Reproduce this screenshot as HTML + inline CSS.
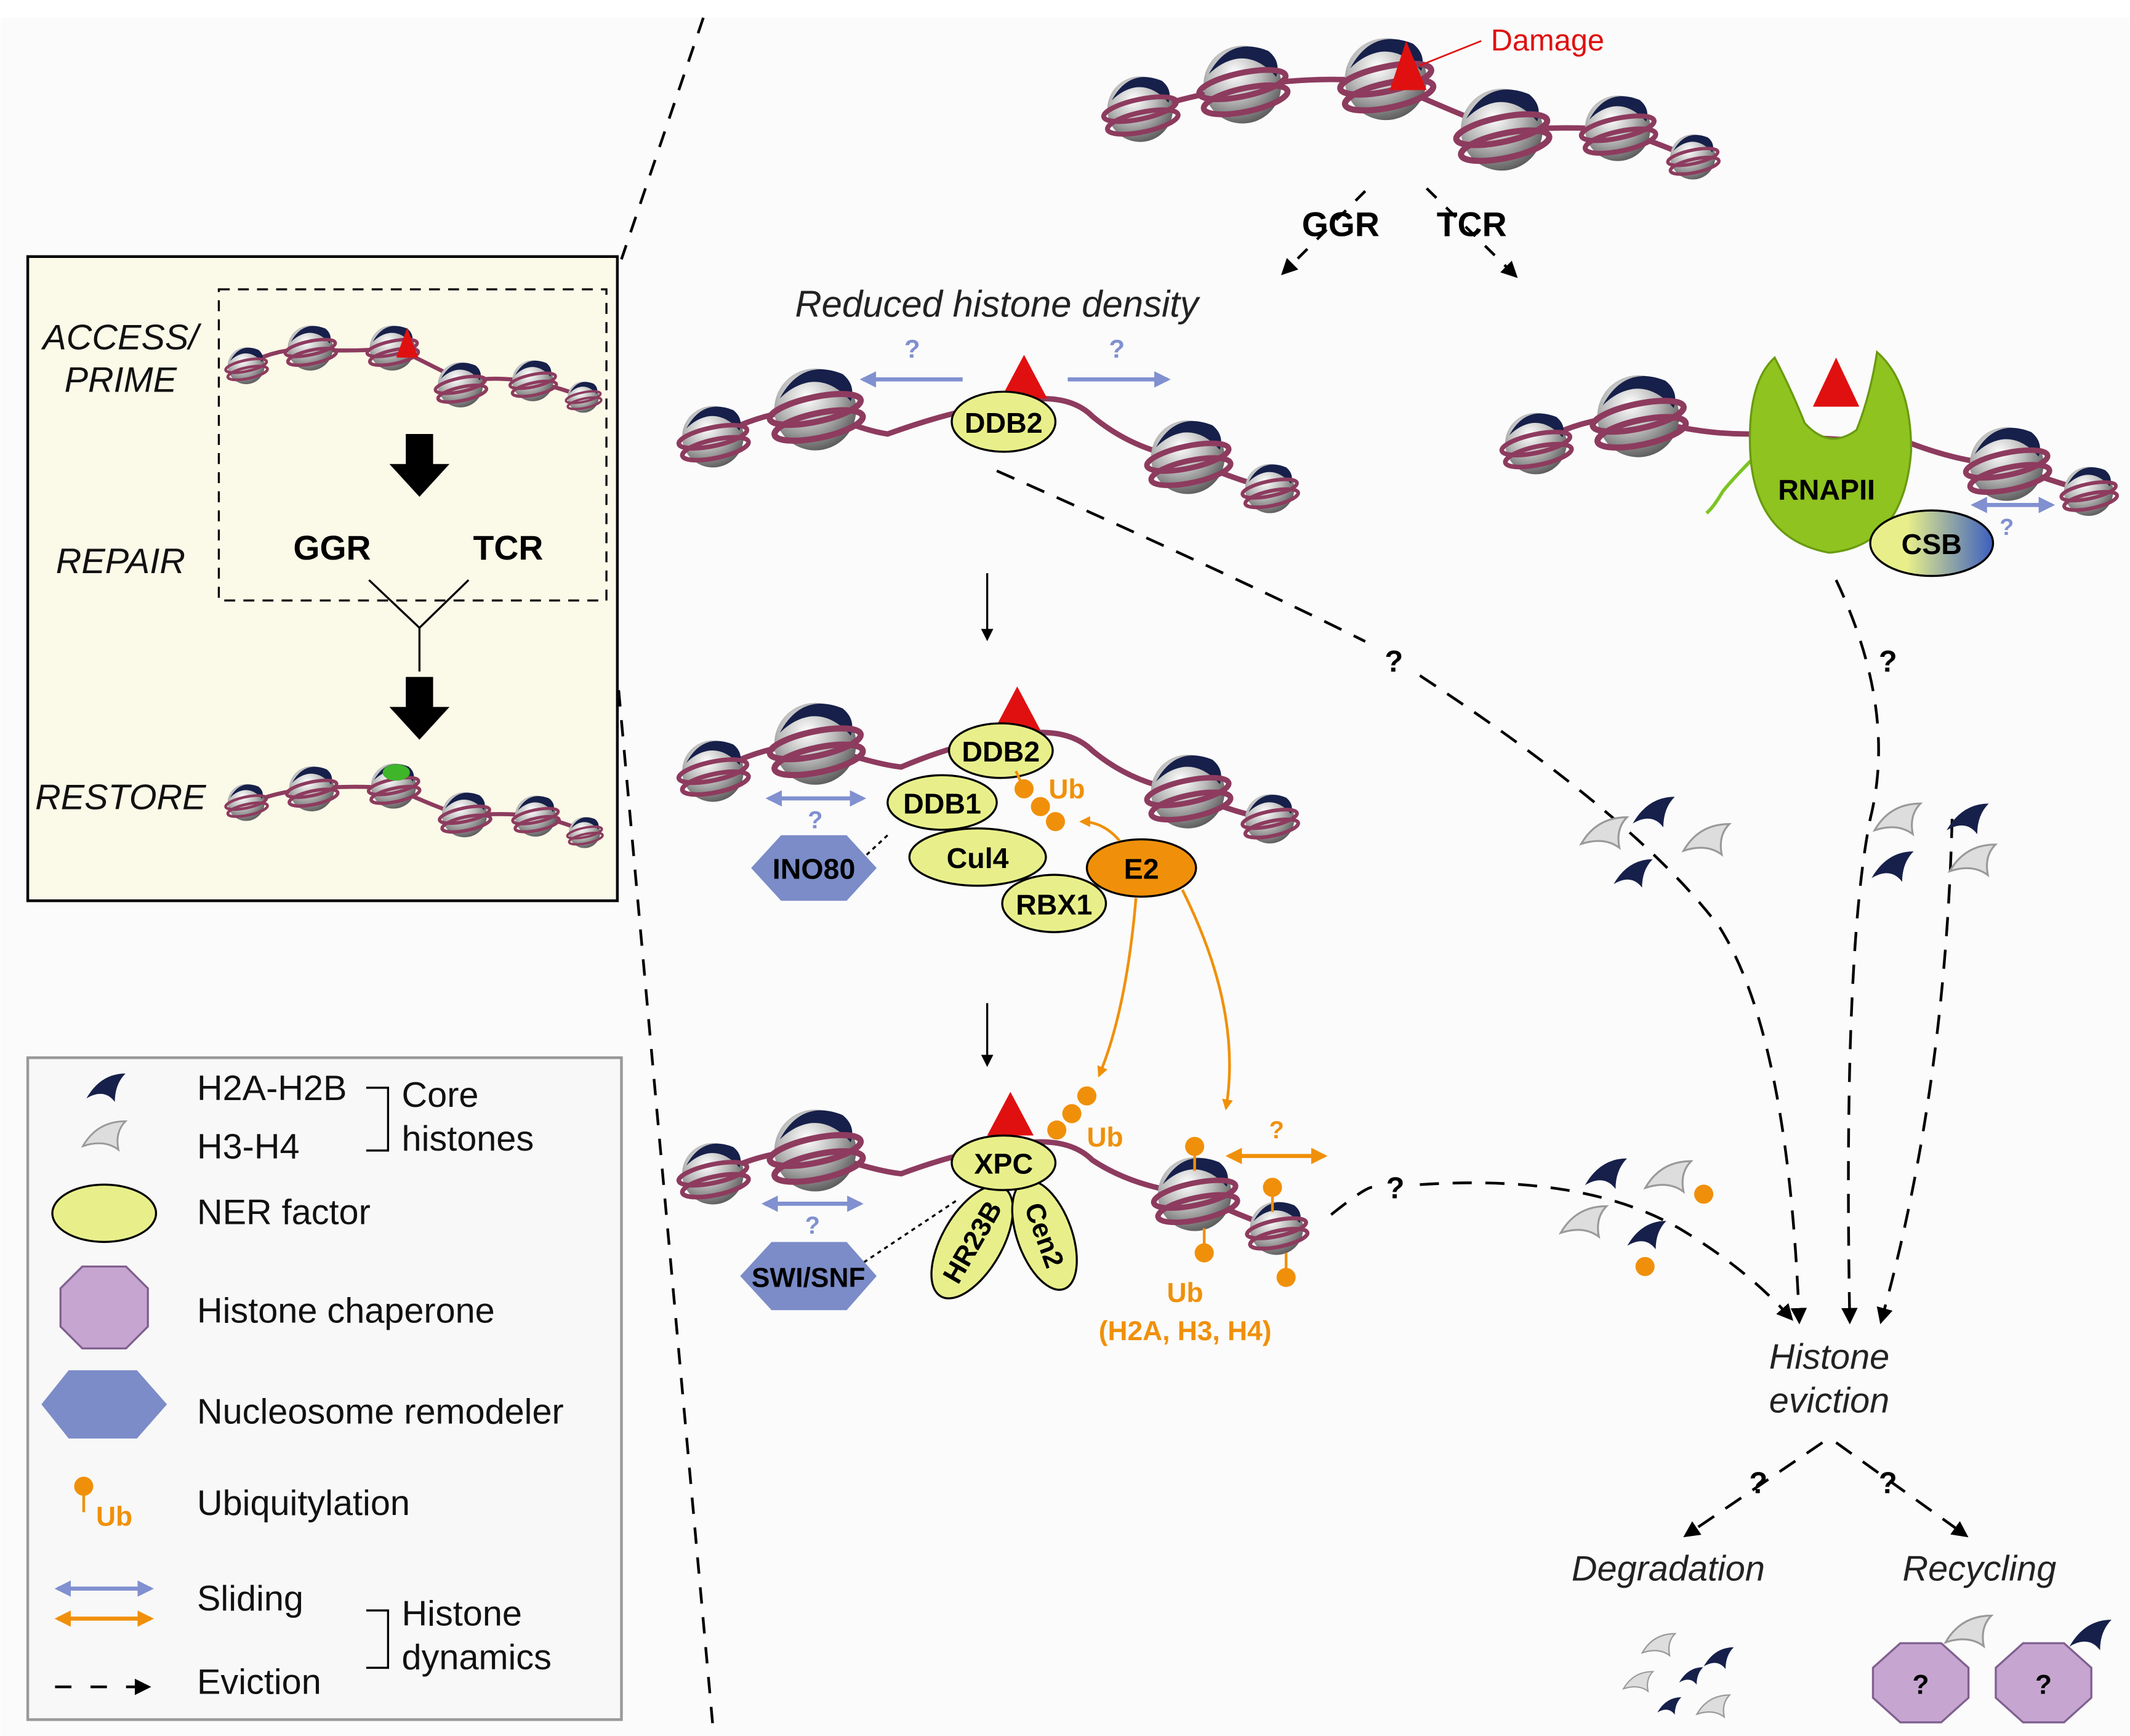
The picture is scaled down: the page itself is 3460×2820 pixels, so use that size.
<!DOCTYPE html>
<html><head><meta charset="utf-8"><style>
html,body{margin:0;padding:0;background:#fff;}
svg{display:block;}
text{font-family:"Liberation Sans",sans-serif;}
</style></head><body>
<svg width="3460" height="2820" viewBox="0 0 1560 1272" xmlns="http://www.w3.org/2000/svg">
<defs>
<radialGradient id="sph" cx="0.4" cy="0.35" r="0.7">
<stop offset="0" stop-color="#ffffff"/><stop offset="0.5" stop-color="#b8b8b8"/><stop offset="1" stop-color="#555"/>
</radialGradient>
<linearGradient id="csb" x1="0" x2="1"><stop offset="0.3" stop-color="#e8ef8a"/><stop offset="1" stop-color="#3c5fc0"/></linearGradient>
<g id="nuc">
<circle r="30" fill="url(#sph)"/>
<path d="M-26,-8 Q-10,-38 20,-26 Q30,-18 26,-6 Q12,-22 -4,-20 Q-16,-18 -26,-8Z" fill="#16204a"/>
<ellipse rx="34" ry="9" transform="rotate(-12)" fill="none" stroke="#8d3b5e" stroke-width="4.5"/>
<ellipse rx="33" ry="9" cy="12" transform="rotate(-12)" fill="none" stroke="#8d3b5e" stroke-width="4.5"/>
</g>
<g id="h2a"><path d="M-10,6 Q-2,-8 12,-8 Q6,-2 6,8 Q0,0 -10,6Z" fill="#16204a"/></g>
<g id="h3"><path d="M-12,6 Q-4,-8 12,-8 Q6,-2 8,8 Q0,2 -12,6Z" fill="#ddd" stroke="#999" stroke-width="1"/></g>
<marker id="ah" viewBox="0 0 10 10" refX="8" refY="5" markerWidth="6" markerHeight="6" orient="auto"><path d="M0,0L10,5L0,10Z" fill="#000"/></marker>
<marker id="ahb" viewBox="0 0 10 10" refX="8" refY="5" markerWidth="4" markerHeight="4" orient="auto-start-reverse"><path d="M0,0L10,5L0,10Z" fill="#8090d0"/></marker>
<marker id="aho" viewBox="0 0 10 10" refX="8" refY="5" markerWidth="4" markerHeight="4" orient="auto-start-reverse"><path d="M0,0L10,5L0,10Z" fill="#f0900a"/></marker>
</defs>
<rect x="0" y="13" width="1560" height="1259" fill="#fbfbfb"/>

<path d="M515,13 L455,190" stroke="#000" stroke-width="2" stroke-dasharray="12,10" fill="none"/>
<path d="M447,440 L522,1265" stroke="#000" stroke-width="2" stroke-dasharray="12,10" fill="none"/>

<rect x="20" y="188" width="432" height="472" fill="#fbf9e8" stroke="#000" stroke-width="2"/>
<rect x="160" y="212" width="284" height="228" fill="none" stroke="#000" stroke-width="1.5" stroke-dasharray="8,6"/>
<g font-style="italic" font-size="26" text-anchor="middle" fill="#111">
<text x="88" y="256">ACCESS/</text><text x="88" y="287">PRIME</text>
<text x="88" y="420">REPAIR</text><text x="88" y="593">RESTORE</text></g>
<path d="M175,270 Q200,255 225,256 Q260,258 290,255 Q320,270 340,280 Q360,275 390,280 Q415,285 428,292" stroke="#8d3b5e" stroke-width="3" fill="none"/>
<use href="#nuc" transform="translate(180,268) scale(0.45)"/><use href="#nuc" transform="translate(227,255) scale(0.55)"/>
<use href="#nuc" transform="translate(287,255) scale(0.55)"/><use href="#nuc" transform="translate(337,282) scale(0.55)"/>
<use href="#nuc" transform="translate(390,279) scale(0.5)"/><use href="#nuc" transform="translate(427,291) scale(0.38)"/>
<path d="M298,240 L306,262 L290,262Z" fill="#e01010"/>
<path d="M297,318 h20 v22 h12 l-22,24 l-22,-24 h12z" fill="#000"/>
<text x="243" y="410" font-weight="bold" font-size="25" text-anchor="middle">GGR</text>
<text x="372" y="410" font-weight="bold" font-size="25" text-anchor="middle">TCR</text>
<path d="M270,425 L307,460 L343,425 M307,460 V492" stroke="#000" stroke-width="1.5" fill="none"/>
<path d="M297,496 h20 v22 h12 l-22,24 l-22,-24 h12z" fill="#000"/>
<path d="M180,590 Q200,580 228,578 Q260,575 290,578 Q320,592 340,598 Q365,595 395,598 Q420,605 430,610" stroke="#8d3b5e" stroke-width="3" fill="none"/>
<use href="#nuc" transform="translate(180,588) scale(0.45)"/><use href="#nuc" transform="translate(228,578) scale(0.55)"/>
<use href="#nuc" transform="translate(288,576) scale(0.55)"/><use href="#nuc" transform="translate(340,597) scale(0.55)"/>
<use href="#nuc" transform="translate(392,598) scale(0.5)"/><use href="#nuc" transform="translate(428,610) scale(0.38)"/>
<ellipse cx="290" cy="566" rx="10" ry="6" fill="#3fb52a"/>

<rect x="20" y="775" width="435" height="485" fill="#f8f8f8" stroke="#999" stroke-width="2"/>
<use href="#h2a" transform="translate(76,797) scale(1.3)"/>
<use href="#h3" transform="translate(76,832) scale(1.3)"/>
<g font-size="26" fill="#111">
<text x="144" y="806">H2A-H2B</text><text x="144" y="849">H3-H4</text>
<text x="294" y="811">Core</text><text x="294" y="843">histones</text>
<text x="144" y="897">NER factor</text><text x="144" y="969">Histone chaperone</text>
<text x="144" y="1043">Nucleosome remodeler</text><text x="144" y="1110">Ubiquitylation</text>
<text x="144" y="1180">Sliding</text><text x="144" y="1241">Eviction</text>
<text x="294" y="1191">Histone</text><text x="294" y="1223">dynamics</text></g>
<path d="M268,797 h16 v46 h-16 M268,1180 h16 v42 h-16" stroke="#000" stroke-width="1.5" fill="none"/>
<ellipse cx="76" cy="889" rx="38" ry="21" fill="#e8ef8a" stroke="#000" stroke-width="1.5"/>
<polygon points="60,928 92,928 108,944 108,972 92,988 60,988 44,972 44,944" fill="#c6a6d0" stroke="#806090" stroke-width="1.5"/>
<polygon points="50,1004 100,1004 122,1029 100,1054 50,1054 30,1029" fill="#7b8cc8"/>
<line x1="61" y1="1090" x2="61" y2="1108" stroke="#f0900a" stroke-width="2"/><circle cx="61" cy="1089" r="7" fill="#f0900a"/>
<text x="70" y="1118" font-size="20" font-weight="bold" fill="#f0900a">Ub</text>
<line x1="42" y1="1164" x2="110" y2="1164" stroke="#8090d0" stroke-width="3" marker-start="url(#ahb)" marker-end="url(#ahb)"/>
<line x1="42" y1="1186" x2="110" y2="1186" stroke="#f0900a" stroke-width="3" marker-start="url(#aho)" marker-end="url(#aho)"/>
<line x1="40" y1="1236" x2="108" y2="1236" stroke="#000" stroke-width="2" stroke-dasharray="12,14" marker-end="url(#ah)"/>

<path d="M835,82 Q870,70 910,64 Q960,55 1015,60 Q1060,80 1100,96 Q1140,92 1185,95 Q1215,105 1240,116" stroke="#8d3b5e" stroke-width="4" fill="none"/>
<use href="#nuc" transform="translate(835,80) scale(0.8)"/><use href="#nuc" transform="translate(910,62) scale(0.95)"/>
<use href="#nuc" transform="translate(1015,58) scale(1)"/><use href="#nuc" transform="translate(1100,95) scale(1)"/>
<use href="#nuc" transform="translate(1185,94) scale(0.8)"/><use href="#nuc" transform="translate(1240,115) scale(0.55)"/>
<path d="M1030,30 L1045,66 L1018,66Z" fill="#e01010"/>
<line x1="1040" y1="48" x2="1085" y2="30" stroke="#e01010" stroke-width="1.2"/>
<text x="1092" y="37" font-size="22" fill="#e01010">Damage</text>
<line x1="1000" y1="140" x2="940" y2="200" stroke="#000" stroke-width="2" stroke-dasharray="10,10" marker-end="url(#ah)"/>
<line x1="1045" y1="138" x2="1110" y2="202" stroke="#000" stroke-width="2" stroke-dasharray="10,10" marker-end="url(#ah)"/>
<text x="982" y="173" font-size="25" font-weight="bold" text-anchor="middle">GGR</text>
<text x="1078" y="173" font-size="25" font-weight="bold" text-anchor="middle">TCR</text>
<text x="730" y="232" font-size="27" font-style="italic" text-anchor="middle" fill="#222">Reduced histone density</text>

<path d="M520,322 Q560,300 597,300 Q630,315 650,318 Q700,300 735,296 Q780,285 800,305 Q830,330 870,336 Q900,350 930,358" stroke="#8d3b5e" stroke-width="4" fill="none"/>
<use href="#nuc" transform="translate(522,320) scale(0.75)"/><use href="#nuc" transform="translate(597,300) scale(1)"/>
<use href="#nuc" transform="translate(870,335) scale(0.9)"/><use href="#nuc" transform="translate(930,358) scale(0.6)"/>
<path d="M750,260 L767,292 L733,292Z" fill="#e01010"/>
<ellipse cx="735" cy="309" rx="38" ry="22" fill="#e8ef8a" stroke="#000" stroke-width="1.5"/>
<text x="735" y="317" font-size="21" font-weight="bold" text-anchor="middle">DDB2</text>
<line x1="705" y1="278" x2="632" y2="278" stroke="#8090d0" stroke-width="3" marker-end="url(#ahb)"/>
<line x1="782" y1="278" x2="855" y2="278" stroke="#8090d0" stroke-width="3" marker-end="url(#ahb)"/>
<text x="668" y="262" font-size="19" font-weight="bold" fill="#8090d0" text-anchor="middle">?</text>
<text x="818" y="262" font-size="19" font-weight="bold" fill="#8090d0" text-anchor="middle">?</text>

<path d="M1125,325 Q1160,305 1200,305 Q1240,318 1280,318 L1400,325 Q1440,340 1470,340 Q1500,352 1530,360" stroke="#8d3b5e" stroke-width="4" fill="none"/>
<use href="#nuc" transform="translate(1125,325) scale(0.75)"/><use href="#nuc" transform="translate(1200,305) scale(1)"/>
<use href="#nuc" transform="translate(1470,340) scale(0.9)"/><use href="#nuc" transform="translate(1530,360) scale(0.6)"/>
<path d="M1290,330 Q1270,350 1262,360 Q1255,372 1250,376" stroke="#7cc424" stroke-width="2.5" fill="none"/>
<path d="M1300,262 Q1280,280 1282,330 Q1285,395 1340,405 Q1395,400 1400,330 Q1400,280 1375,258 Q1370,290 1360,315 Q1340,330 1322,310 Q1312,285 1300,262Z" fill="#8fc31f" stroke="#6a9a10" stroke-width="1.5"/>
<path d="M1345,262 L1362,298 L1328,298Z" fill="#e01010"/>
<text x="1338" y="366" font-size="21" font-weight="bold" text-anchor="middle">RNAPII</text>
<ellipse cx="1415" cy="398" rx="45" ry="24" fill="url(#csb)" stroke="#000" stroke-width="1.5"/>
<text x="1415" y="406" font-size="21" font-weight="bold" text-anchor="middle">CSB</text>
<line x1="1446" y1="370" x2="1503" y2="370" stroke="#8090d0" stroke-width="3" marker-start="url(#ahb)" marker-end="url(#ahb)"/>
<text x="1470" y="392" font-size="17" font-weight="bold" fill="#8090d0" text-anchor="middle">?</text>

<line x1="723" y1="420" x2="723" y2="468" stroke="#000" stroke-width="1.5" marker-end="url(#ah)"/>
<line x1="723" y1="735" x2="723" y2="780" stroke="#000" stroke-width="1.5" marker-end="url(#ah)"/>

<path d="M520,567 Q560,545 597,545 Q640,560 660,562 Q700,545 735,540 Q780,530 800,550 Q830,575 870,580 Q900,595 930,600" stroke="#8d3b5e" stroke-width="4" fill="none"/>
<use href="#nuc" transform="translate(522,565) scale(0.75)"/><use href="#nuc" transform="translate(597,545) scale(1)"/>
<use href="#nuc" transform="translate(870,580) scale(0.9)"/><use href="#nuc" transform="translate(930,600) scale(0.6)"/>
<path d="M745,503 L762,535 L728,535Z" fill="#e01010"/>
<ellipse cx="772" cy="662" rx="38" ry="21" fill="#e8ef8a" stroke="#000" stroke-width="1.5"/>
<ellipse cx="716" cy="628" rx="50" ry="21" fill="#e8ef8a" stroke="#000" stroke-width="1.5"/>
<ellipse cx="690" cy="588" rx="40" ry="20" fill="#e8ef8a" stroke="#000" stroke-width="1.5"/>
<ellipse cx="733" cy="550" rx="38" ry="20" fill="#e8ef8a" stroke="#000" stroke-width="1.5"/>
<text x="733" y="558" font-size="21" font-weight="bold" text-anchor="middle">DDB2</text>
<text x="690" y="596" font-size="21" font-weight="bold" text-anchor="middle">DDB1</text>
<text x="716" y="636" font-size="21" font-weight="bold" text-anchor="middle">Cul4</text>
<text x="772" y="670" font-size="21" font-weight="bold" text-anchor="middle">RBX1</text>
<ellipse cx="836" cy="636" rx="40" ry="21" fill="#f0900a" stroke="#000" stroke-width="1.5"/>
<text x="836" y="644" font-size="21" font-weight="bold" text-anchor="middle">E2</text>
<line x1="744" y1="565" x2="750" y2="578" stroke="#f0900a" stroke-width="2"/>
<circle cx="750" cy="578" r="7" fill="#f0900a"/><circle cx="762" cy="591" r="7" fill="#f0900a"/><circle cx="773" cy="602" r="7" fill="#f0900a"/>
<text x="768" y="585" font-size="20" font-weight="bold" fill="#f0900a">Ub</text>
<path d="M820,616 Q808,602 792,602" stroke="#f0900a" stroke-width="2" fill="none" marker-end="url(#aho)"/>
<path d="M832,658 Q825,740 805,788" stroke="#f0900a" stroke-width="2" fill="none" marker-end="url(#aho)"/>
<path d="M866,652 Q910,740 898,812" stroke="#f0900a" stroke-width="2" fill="none" marker-end="url(#aho)"/>
<line x1="650" y1="612" x2="620" y2="640" stroke="#000" stroke-width="1.5" stroke-dasharray="3,3"/>
<polygon points="572,612 620,612 642,636 620,660 572,660 550,636" fill="#7b8cc8"/>
<text x="596" y="644" font-size="21" font-weight="bold" text-anchor="middle">INO80</text>
<line x1="563" y1="585" x2="632" y2="585" stroke="#8090d0" stroke-width="3" marker-start="url(#ahb)" marker-end="url(#ahb)"/>
<text x="597" y="607" font-size="18" font-weight="bold" fill="#8090d0" text-anchor="middle">?</text>

<path d="M522,862 Q560,842 597,843 Q640,858 660,860 Q700,845 735,840 Q780,830 800,850 Q830,870 875,875 Q905,890 935,900" stroke="#8d3b5e" stroke-width="4" fill="none"/>
<use href="#nuc" transform="translate(522,860) scale(0.75)"/><use href="#nuc" transform="translate(597,843) scale(1)"/>
<use href="#nuc" transform="translate(875,875) scale(0.9)"/><use href="#nuc" transform="translate(935,900) scale(0.65)"/>
<path d="M740,800 L757,832 L723,832Z" fill="#e01010"/>
<g transform="translate(712,910) rotate(30)"><ellipse rx="22" ry="46" fill="#e8ef8a" stroke="#000" stroke-width="1.5"/><text y="7" font-size="20" font-weight="bold" text-anchor="middle" transform="rotate(-90)">HR23B</text></g>
<g transform="translate(765,905) rotate(-20)"><ellipse rx="20" ry="42" fill="#e8ef8a" stroke="#000" stroke-width="1.5"/><text y="7" font-size="20" font-weight="bold" text-anchor="middle" transform="rotate(90)">Cen2</text></g>
<ellipse cx="735" cy="852" rx="38" ry="20" fill="#e8ef8a" stroke="#000" stroke-width="1.5"/>
<text x="735" y="860" font-size="21" font-weight="bold" text-anchor="middle">XPC</text>
<circle cx="774" cy="828" r="7" fill="#f0900a"/><circle cx="785" cy="816" r="7" fill="#f0900a"/><circle cx="796" cy="803" r="7" fill="#f0900a"/>
<text x="796" y="840" font-size="20" font-weight="bold" fill="#f0900a">Ub</text>
<g stroke="#f0900a" stroke-width="2"><line x1="875" y1="840" x2="875" y2="858"/><line x1="882" y1="900" x2="882" y2="918"/><line x1="932" y1="870" x2="932" y2="888"/><line x1="942" y1="918" x2="942" y2="936"/></g>
<g fill="#f0900a"><circle cx="875" cy="840" r="7"/><circle cx="882" cy="918" r="7"/><circle cx="932" cy="870" r="7"/><circle cx="942" cy="936" r="7"/></g>
<line x1="900" y1="847" x2="970" y2="847" stroke="#f0900a" stroke-width="3" marker-start="url(#aho)" marker-end="url(#aho)"/>
<text x="935" y="834" font-size="18" font-weight="bold" fill="#f0900a" text-anchor="middle">?</text>
<text x="868" y="954" font-size="20" font-weight="bold" fill="#f0900a" text-anchor="middle">Ub</text>
<text x="868" y="982" font-size="20" font-weight="bold" fill="#f0900a" text-anchor="middle">(H2A, H3, H4)</text>
<line x1="700" y1="880" x2="625" y2="930" stroke="#000" stroke-width="1.5" stroke-dasharray="3,3"/>
<polygon points="565,910 620,910 642,935 620,960 565,960 542,935" fill="#7b8cc8"/>
<text x="592" y="943" font-size="20" font-weight="bold" text-anchor="middle">SWI/SNF</text>
<line x1="560" y1="882" x2="630" y2="882" stroke="#8090d0" stroke-width="3" marker-start="url(#ahb)" marker-end="url(#ahb)"/>
<text x="595" y="904" font-size="18" font-weight="bold" fill="#8090d0" text-anchor="middle">?</text>

<g stroke="#000" stroke-width="2" stroke-dasharray="14,10" fill="none">
<path d="M730,345 Q900,420 1000,470"/>
<path d="M1040,495 Q1200,600 1260,680 Q1310,760 1318,968" marker-end="url(#ah)"/>
<path d="M1345,425 Q1390,520 1370,600 Q1350,700 1355,968" marker-end="url(#ah)"/>
<path d="M1430,600 Q1425,800 1378,968" marker-end="url(#ah)"/>
<path d="M975,890 Q1000,870 1005,870"/>
<path d="M1040,868 Q1160,860 1230,900 Q1280,930 1312,966" marker-end="url(#ah)"/>
<path d="M1335,1057 L1235,1125" marker-end="url(#ah)"/>
<path d="M1345,1057 L1440,1125" marker-end="url(#ah)"/>
</g>
<g font-size="22" font-weight="bold" text-anchor="middle">
<text x="1021" y="492">?</text><text x="1383" y="492">?</text><text x="1022" y="878">?</text>
<text x="1288" y="1094">?</text><text x="1383" y="1094">?</text></g>

<use href="#h3" transform="translate(1175,610) scale(1.4)"/><use href="#h2a" transform="translate(1210,595) scale(1.4)"/>
<use href="#h3" transform="translate(1250,615) scale(1.4)"/><use href="#h2a" transform="translate(1195,640) scale(1.3)"/>
<use href="#h3" transform="translate(1390,600) scale(1.4)"/><use href="#h2a" transform="translate(1440,600) scale(1.4)"/>
<use href="#h2a" transform="translate(1385,635) scale(1.4)"/><use href="#h3" transform="translate(1445,630) scale(1.4)"/>
<use href="#h2a" transform="translate(1175,860) scale(1.4)"/><use href="#h3" transform="translate(1222,862) scale(1.4)"/>
<use href="#h3" transform="translate(1160,895) scale(1.4)"/><use href="#h2a" transform="translate(1205,905) scale(1.3)"/>
<circle cx="1248" cy="875" r="7" fill="#f0900a"/><circle cx="1205" cy="928" r="7" fill="#f0900a"/>

<g font-size="26" font-style="italic" text-anchor="middle" fill="#222">
<text x="1340" y="1003">Histone</text><text x="1340" y="1035">eviction</text>
<text x="1222" y="1158">Degradation</text><text x="1450" y="1158">Recycling</text></g>

<use href="#h3" transform="translate(1215,1205) scale(1)"/><use href="#h2a" transform="translate(1258,1215) scale(1)"/>
<use href="#h2a" transform="translate(1238,1228) scale(0.8)"/><use href="#h3" transform="translate(1200,1232) scale(0.9)"/>
<use href="#h3" transform="translate(1255,1250) scale(1)"/><use href="#h2a" transform="translate(1222,1250) scale(0.8)"/>
<polygon points="1392,1204 1422,1204 1442,1222 1442,1244 1422,1262 1392,1262 1372,1244 1372,1222" fill="#c6a6d0" stroke="#806090" stroke-width="1.5"/>
<polygon points="1482,1204 1512,1204 1532,1222 1532,1244 1512,1262 1482,1262 1462,1244 1462,1222" fill="#c6a6d0" stroke="#806090" stroke-width="1.5"/>
<text x="1407" y="1241" font-size="20" font-weight="bold" text-anchor="middle">?</text>
<text x="1497" y="1241" font-size="20" font-weight="bold" text-anchor="middle">?</text>
<use href="#h3" transform="translate(1442,1195) scale(1.4)"/><use href="#h2a" transform="translate(1530,1198) scale(1.4)"/>
</svg>
</body></html>
